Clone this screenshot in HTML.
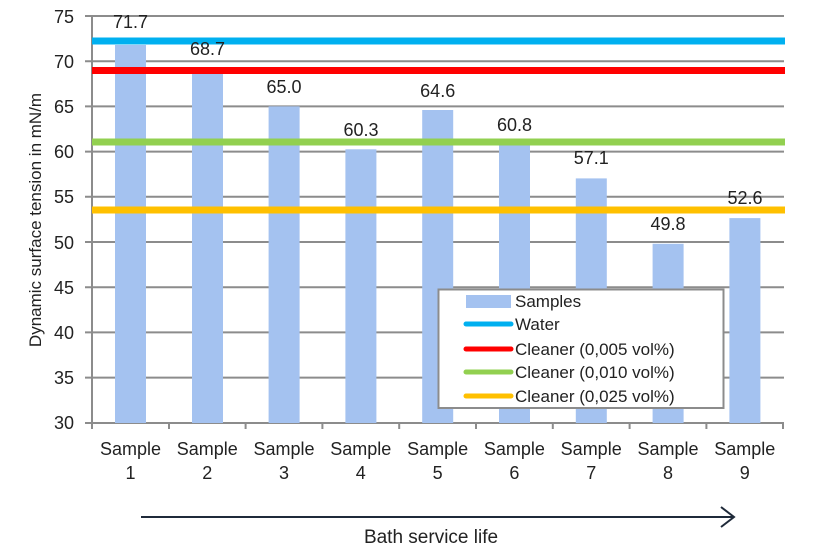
<!DOCTYPE html>
<html><head><meta charset="utf-8"><style>
html,body{margin:0;padding:0;background:#fff;}
svg{display:block;font-family:"Liberation Sans",sans-serif;}
</style></head><body>
<svg width="813" height="557" viewBox="0 0 813 557" xmlns="http://www.w3.org/2000/svg">
<g stroke="#8c8c8c" stroke-width="2">
<line x1="85" y1="16" x2="784" y2="16"/>
<line x1="85" y1="61.2" x2="784" y2="61.2"/>
<line x1="85" y1="106.4" x2="784" y2="106.4"/>
<line x1="85" y1="151.6" x2="784" y2="151.6"/>
<line x1="85" y1="196.8" x2="784" y2="196.8"/>
<line x1="85" y1="242" x2="784" y2="242"/>
<line x1="85" y1="287.2" x2="784" y2="287.2"/>
<line x1="85" y1="332.4" x2="784" y2="332.4"/>
<line x1="85" y1="377.6" x2="784" y2="377.6"/>
<line x1="85" y1="423" x2="784" y2="423"/>
<line x1="92" y1="16" x2="92" y2="423"/>
<line x1="92" y1="423" x2="92" y2="429"/><line x1="169" y1="423" x2="169" y2="429"/><line x1="245.6" y1="423" x2="245.6" y2="429"/><line x1="322.4" y1="423" x2="322.4" y2="429"/><line x1="399.2" y1="423" x2="399.2" y2="429"/><line x1="476" y1="423" x2="476" y2="429"/><line x1="552.8" y1="423" x2="552.8" y2="429"/><line x1="629.6" y1="423" x2="629.6" y2="429"/><line x1="706.4" y1="423" x2="706.4" y2="429"/><line x1="783" y1="423" x2="783" y2="429"/>
</g>
<g font-size="18" fill="#222" text-anchor="end">
<text x="74" y="23">75</text><text x="74" y="68">70</text><text x="74" y="113">65</text><text x="74" y="158">60</text><text x="74" y="203">55</text><text x="74" y="249">50</text><text x="74" y="294">45</text><text x="74" y="339">40</text><text x="74" y="384">35</text><text x="74" y="429">30</text>
</g>
<text transform="translate(41,220) rotate(-90)" font-size="17" fill="#222" text-anchor="middle">Dynamic surface tension in mN/m</text>
<g fill="#a4c2f0">
<rect x="115" y="45" width="31" height="378"/>
<rect x="192" y="73" width="31" height="350"/>
<rect x="268.6" y="106.4" width="31" height="316.6"/>
<rect x="345.4" y="149.3" width="31" height="273.7"/>
<rect x="422.2" y="110" width="31" height="313"/>
<rect x="499" y="144.9" width="31" height="278.1"/>
<rect x="575.8" y="178.4" width="31" height="244.6"/>
<rect x="652.6" y="243.8" width="31" height="179.2"/>
<rect x="729.4" y="218.1" width="31" height="204.9"/>
</g>
<g stroke-width="7">
<line x1="92" y1="41" x2="785" y2="41" stroke="#00b0f0"/>
<line x1="92" y1="70.5" x2="785" y2="70.5" stroke="#ff0000"/>
<line x1="92" y1="142" x2="785" y2="142" stroke="#92d050"/>
<line x1="92" y1="210" x2="785" y2="210" stroke="#ffc000"/>
</g>
<g font-size="18" fill="#222" text-anchor="middle">
<text x="130.5" y="28">71.7</text><text x="207.5" y="55">68.7</text><text x="284" y="93">65.0</text><text x="361" y="136">60.3</text><text x="437.7" y="97">64.6</text><text x="514.5" y="131">60.8</text><text x="591.3" y="164">57.1</text><text x="668" y="230">49.8</text><text x="745" y="204">52.6</text>
</g>
<rect x="438.5" y="289.5" width="285" height="118.5" fill="#fff" stroke="#8c8c8c" stroke-width="2"/>
<rect x="466" y="295" width="45" height="13" fill="#a4c2f0"/>
<g stroke-width="5" stroke-linecap="round">
<line x1="466" y1="324" x2="511" y2="324" stroke="#00b0f0"/>
<line x1="466" y1="349" x2="511" y2="349" stroke="#ff0000"/>
<line x1="466" y1="372" x2="511" y2="372" stroke="#92d050"/>
<line x1="466" y1="396" x2="511" y2="396" stroke="#ffc000"/>
</g>
<g font-size="17" fill="#222">
<text x="515" y="307">Samples</text><text x="515" y="330">Water</text><text x="515" y="355">Cleaner (0,005 vol%)</text><text x="515" y="378">Cleaner (0,010 vol%)</text><text x="515" y="402">Cleaner (0,025 vol%)</text>
</g>
<g font-size="18" fill="#222" text-anchor="middle">
<text x="130.5" y="455">Sample</text><text x="130.5" y="479">1</text>
<text x="207.3" y="455">Sample</text><text x="207.3" y="479">2</text>
<text x="284" y="455">Sample</text><text x="284" y="479">3</text>
<text x="360.8" y="455">Sample</text><text x="360.8" y="479">4</text>
<text x="437.6" y="455">Sample</text><text x="437.6" y="479">5</text>
<text x="514.4" y="455">Sample</text><text x="514.4" y="479">6</text>
<text x="591.2" y="455">Sample</text><text x="591.2" y="479">7</text>
<text x="668" y="455">Sample</text><text x="668" y="479">8</text>
<text x="744.8" y="455">Sample</text><text x="744.8" y="479">9</text>
</g>
<line x1="141" y1="517" x2="734" y2="517" stroke="#1f2a3a" stroke-width="2"/>
<polyline points="721,507 734,517 721,527" fill="none" stroke="#1f2a3a" stroke-width="2"/>
<text x="431" y="543" font-size="19" fill="#222" text-anchor="middle">Bath service life</text>
</svg>
</body></html>
